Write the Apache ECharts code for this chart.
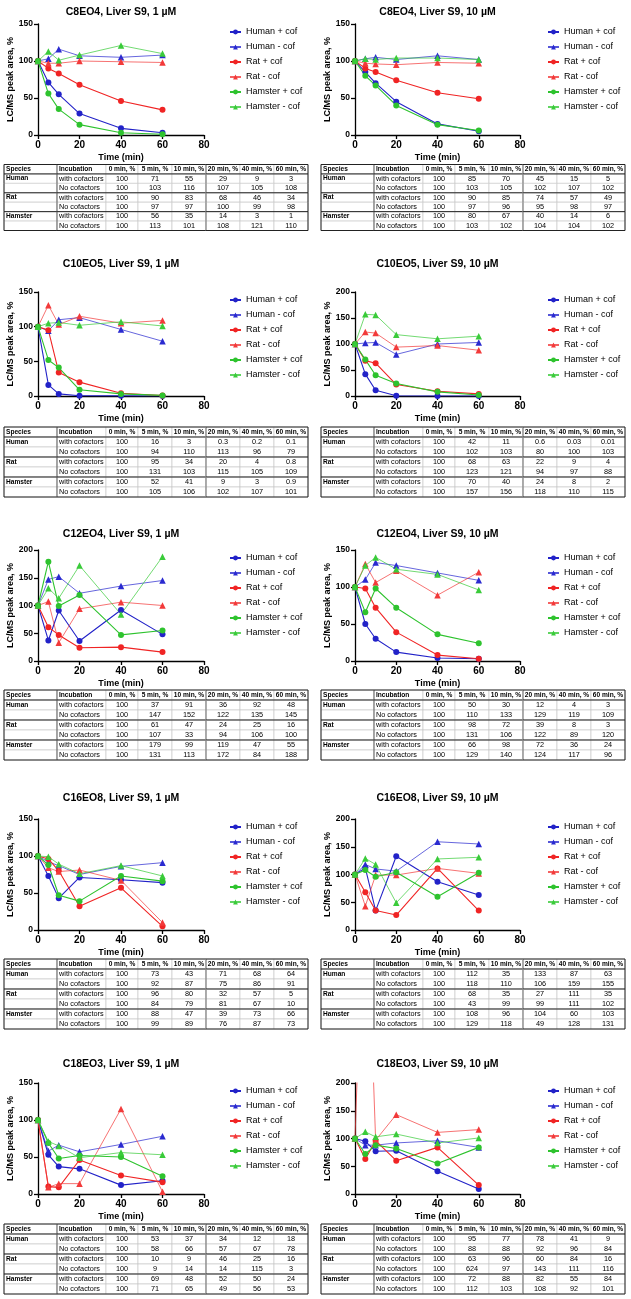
<!DOCTYPE html>
<html><head><meta charset="utf-8">
<script src="https://cdn.jsdelivr.net/npm/echarts@6/dist/echarts.min.js"></script>
<style>html,body{margin:0;padding:0;background:#fff}#c{width:631px;height:1299px}</style>
</head><body><div id="c"></div>
<script>
// ---------- DATA ----------
const TIMES = [0, 5, 10, 20, 40, 60];
const SERIES_NAMES = ['Human + cof', 'Human - cof', 'Rat + cof', 'Rat - cof', 'Hamster + cof', 'Hamster - cof'];
const TABLE_HEADER = ['Species', 'Incubation', '0 min, %', '5 min, %', '10 min, %', '20 min, %', '40 min, %', '60 min, %'];
const SPECIES = ['Human', 'Rat', 'Hamster'];
const INCUBATIONS = ['with cofactors', 'No cofactors'];
const X_TICKS = [0, 20, 40, 60, 80];
const TITLES = ['C8EO4, Liver S9, 1 µM', 'C8EO4, Liver S9, 10 µM', 'C10EO5, Liver S9, 1 µM', 'C10EO5, Liver S9, 10 µM',
  'C12EO4, Liver S9, 1 µM', 'C12EO4, Liver S9, 10 µM', 'C16EO8, Liver S9, 1 µM', 'C16EO8, Liver S9, 10 µM',
  'C18EO3, Liver S9, 1 µM', 'C18EO3, Liver S9, 10 µM'];
const Y_MAX = [150, 150, 150, 200, 200, 150, 150, 200, 150, 200];
const Y_INTERVAL = 50;

// rows: Human+cof, Human-cof, Rat+cof, Rat-cof, Hamster+cof, Hamster-cof
const C8EO4_1uM = [
  [100, 71, 55, 29, 9, 3], [100, 103, 116, 107, 105, 108],
  [100, 90, 83, 68, 46, 34], [100, 97, 97, 100, 99, 98],
  [100, 56, 35, 14, 3, 1], [100, 113, 101, 108, 121, 110]];
const C8EO4_10uM = [
  [100, 85, 70, 45, 15, 5], [100, 103, 105, 102, 107, 102],
  [100, 90, 85, 74, 57, 49], [100, 97, 96, 95, 98, 97],
  [100, 80, 67, 40, 14, 6], [100, 103, 102, 104, 104, 102]];
const C10EO5_1uM = [
  [100, 16, 3, 0.3, 0.2, 0.1], [100, 94, 110, 113, 96, 79],
  [100, 95, 34, 20, 4, 0.8], [100, 131, 103, 115, 105, 109],
  [100, 52, 41, 9, 3, 0.9], [100, 105, 106, 102, 107, 101]];
const C10EO5_10uM = [
  [100, 42, 11, 0.6, 0.03, 0.01], [100, 102, 103, 80, 100, 103],
  [100, 68, 63, 22, 9, 4], [100, 123, 121, 94, 97, 88],
  [100, 70, 40, 24, 8, 2], [100, 157, 156, 118, 110, 115]];
const C12EO4_1uM = [
  [100, 37, 91, 36, 92, 48], [100, 147, 152, 122, 135, 145],
  [100, 61, 47, 24, 25, 16], [100, 107, 33, 94, 106, 100],
  [100, 179, 99, 119, 47, 55], [100, 131, 113, 172, 84, 188]];
const C12EO4_10uM = [
  [100, 50, 30, 12, 4, 3], [100, 110, 133, 129, 119, 109],
  [100, 98, 72, 39, 8, 3], [100, 131, 106, 122, 89, 120],
  [100, 66, 98, 72, 36, 24], [100, 129, 140, 124, 117, 96]];
const C16EO8_1uM = [
  [100, 73, 43, 71, 68, 64], [100, 92, 87, 75, 86, 91],
  [100, 96, 80, 32, 57, 5], [100, 84, 79, 81, 67, 10],
  [100, 88, 47, 39, 73, 66], [100, 99, 89, 76, 87, 73]];
const C16EO8_10uM = [
  [100, 112, 35, 133, 87, 63], [100, 118, 110, 106, 159, 155],
  [100, 68, 35, 27, 111, 35], [100, 43, 99, 99, 111, 102],
  [100, 108, 96, 104, 60, 103], [100, 129, 118, 49, 128, 131]];
const C18EO3_1uM = [
  [100, 53, 37, 34, 12, 18], [100, 58, 66, 57, 67, 78],
  [100, 10, 9, 46, 25, 16], [100, 9, 14, 14, 115, 3],
  [100, 69, 48, 52, 50, 24], [100, 71, 65, 49, 56, 53]];
const C18EO3_10uM = [
  [100, 95, 77, 78, 41, 9], [100, 88, 88, 92, 96, 84],
  [100, 63, 96, 60, 84, 16], [100, 624, 97, 143, 111, 116],
  [100, 72, 88, 82, 55, 84], [100, 112, 103, 108, 92, 101]];

const PANEL_DATA = [C8EO4_1uM, C8EO4_10uM, C10EO5_1uM, C10EO5_10uM, C12EO4_1uM, C12EO4_10uM,
  C16EO8_1uM, C16EO8_10uM, C18EO3_1uM, C18EO3_10uM];

// ---------- LAYOUT / STYLE ----------
const FONT = 'Liberation Sans, Arial, sans-serif';
const COLORS = ['#2222c8', '#2a2ad0', '#f02424', '#f23a3a', '#2ec32e', '#3acb3a'];
const ROWS = [
  { title: 13, top: 24, bottom: 135, tTop: 164.5, tBot: 230.5 },
  { title: 265, top: 292, bottom: 396, tTop: 427, tBot: 497 },
  { title: 535, top: 550, bottom: 661, tTop: 690, tBot: 760 },
  { title: 799, top: 819, bottom: 930, tTop: 959, tBot: 1029 },
  { title: 1065, top: 1083, bottom: 1194, tTop: 1224, tBot: 1294 }
];
const COLS = [
  { gx: 38, gw: 166, legend: 229, tx: 4 },
  { gx: 355, gw: 165, legend: 547, tx: 321 }
];
const COL_EDGES = [0, 53, 102, 134, 168, 202, 236, 270, 304];

function renderCell(api, cell) {
  const [c, r, text, bold] = cell;
  const p0 = api.coord([COL_EDGES[c], r]);
  const p1 = api.coord([COL_EDGES[c + 1], r]);
  const h = api.size([0, 1])[1];
  const x0 = p0[0], x1 = p1[0], yc = p0[1], y0 = yc - h / 2, y1 = yc + h / 2;
  const ch = [{ type: 'rect', shape: { x: x0, y: y0, width: x1 - x0, height: h },
    style: { fill: '#fff', stroke: '#c4c4c4', lineWidth: 0.6 }, z2: 1 }];
  const ln = (xa, ya, xb, yb, col, w) => ch.push({ type: 'line', shape: { x1: xa, y1: ya, x2: xb, y2: yb },
    style: { stroke: col, lineWidth: w }, z2: 5 });
  if (r === 0) ln(x0, y0, x1, y0, '#222', 1);
  if (r === 0 || r === 2 || r === 4 || r === 6) ln(x0, y1, x1, y1, '#222', 1);
  if (c === 0) { ln(x0, y0, x0, y1, '#222', 1); ln(x1, y0, x1, y1, '#555', 0.9); }
  if (c === 7) ln(x1, y0, x1, y1, '#222', 1);
  if (c === 4) ln(x1, y0, x1, y1, '#8a8a8a', 1.3);
  ch.push({ type: 'text', z2: 10, style: { x: c < 2 ? x0 + 2 : (x0 + x1) / 2, y: yc, text: text,
    fill: '#000', align: c < 2 ? 'left' : 'center', verticalAlign: 'middle',
    fontSize: bold ? 6.6 : 7.3, fontWeight: bold ? 'bold' : 'normal', fontFamily: FONT } });
  return { type: 'group', children: ch };
}

const grid = [], xAxis = [], yAxis = [], series = [], title = [], legend = [];
PANEL_DATA.forEach((pd, i) => {
  const L = ROWS[Math.floor(i / 2)], C = COLS[i % 2];
  const gi = grid.length;
  grid.push({ left: C.gx, top: L.top, width: C.gw, height: L.bottom - L.top });
  xAxis.push({ gridIndex: gi, type: 'value', min: X_TICKS[0], max: X_TICKS[X_TICKS.length - 1], interval: X_TICKS[1] - X_TICKS[0],
    name: 'Time (min)', nameLocation: 'middle', nameGap: 18,
    nameTextStyle: { fontSize: 9, fontWeight: 'bold', fontFamily: FONT, color: '#000' },
    axisLine: { show: true, lineStyle: { color: '#000', width: 1.3 } },
    axisTick: { show: true, length: 4, lineStyle: { color: '#000', width: 1.3 } },
    axisLabel: { color: '#000', fontWeight: 'bold', fontSize: 10, fontFamily: FONT, margin: 5 },
    splitLine: { show: false } });
  yAxis.push({ gridIndex: gi, type: 'value', min: 0, max: Y_MAX[i], interval: Y_INTERVAL,
    name: 'LC/MS peak area, %', nameLocation: 'middle', nameGap: 20,
    nameTextStyle: { fontSize: 9, fontWeight: 'bold', fontFamily: FONT, color: '#000' },
    axisLine: { show: true, lineStyle: { color: '#000', width: 1.3 } },
    axisTick: { show: true, length: 4, lineStyle: { color: '#000', width: 1.3 } },
    axisLabel: { color: '#000', fontWeight: 'bold', fontSize: 8.5, fontFamily: FONT, margin: 5 },
    splitLine: { show: false } });
  title.push({ text: TITLES[i], left: C.gx + C.gw / 2, top: L.title - 6, textAlign: 'center', padding: 0,
    textStyle: { fontSize: 10.5, fontWeight: 'bold', fontFamily: FONT, color: '#000' } });
  legend.push({ orient: 'vertical', left: C.legend, top: L.top + 3, padding: 0, itemWidth: 11, itemHeight: 6, itemGap: 5,
    selectedMode: false, data: SERIES_NAMES,
    textStyle: { fontSize: 9, fontFamily: FONT, color: '#000', lineHeight: 10 } });
  SERIES_NAMES.forEach((nm, k) => {
    const plus = k % 2 === 0;
    series.push({ type: 'line', name: nm, xAxisIndex: gi, yAxisIndex: gi, clip: true, animation: false,
      data: TIMES.map((t, j) => [t, pd[k][j]]),
      symbol: plus ? 'circle' : 'triangle', symbolSize: plus ? 6 : 6.5,
      itemStyle: { color: COLORS[k] },
      lineStyle: { width: plus ? 1.1 : 0.9, color: COLORS[k], opacity: plus ? 1 : 0.8 } });
  });
  // table
  const tgi = grid.length;
  grid.push({ left: C.tx, top: L.tTop, width: COL_EDGES[COL_EDGES.length - 1], height: L.tBot - L.tTop });
  xAxis.push({ gridIndex: tgi, type: 'value', min: 0, max: COL_EDGES[COL_EDGES.length - 1], show: false });
  yAxis.push({ gridIndex: tgi, type: 'category', inverse: true, show: false, data: ['0', '1', '2', '3', '4', '5', '6'] });
  const cells = [];
  TABLE_HEADER.forEach((h, c) => cells.push([c, 0, h, 1]));
  SPECIES.forEach((sp, s) => INCUBATIONS.forEach((inc, m) => {
    const r = 1 + s * 2 + m, k = s * 2 + m;
    cells.push([0, r, m === 0 ? sp : '', 1]);
    cells.push([1, r, inc, 0]);
    pd[k].forEach((v, j) => cells.push([2 + j, r, String(v), 0]));
  }));
  series.push({ type: 'custom', xAxisIndex: tgi, yAxisIndex: tgi, animation: false, silent: true,
    data: cells.map(c => [COL_EDGES[c[0]], c[1]]),
    renderItem: (params, api) => renderCell(api, cells[params.dataIndex]) });
});

const chart = echarts.init(document.getElementById('c'), null, { renderer: 'canvas' });
chart.setOption({ backgroundColor: '#fff', animation: false, title, legend, grid, xAxis, yAxis, series });
</script></body></html>
